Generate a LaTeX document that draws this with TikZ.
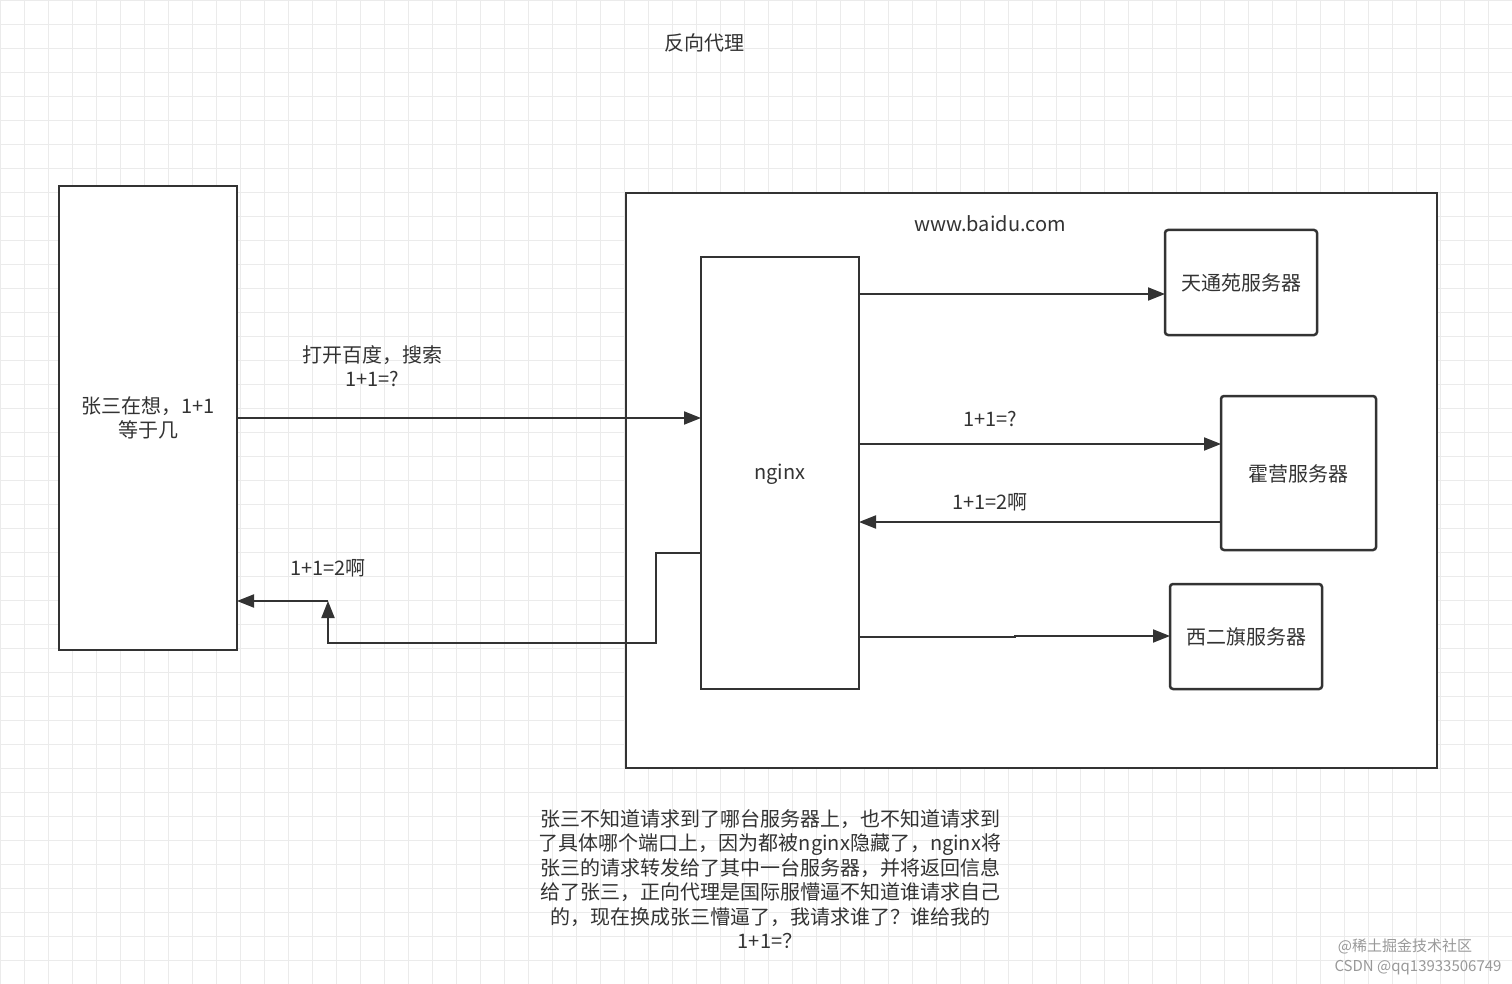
\documentclass[tikz,border=0pt]{standalone}
\usepackage{fontspec}
\setmainfont{Noto Sans CJK SC}
\usetikzlibrary{arrows.meta}
\definecolor{ln}{HTML}{333333}
\begin{document}
\begin{tikzpicture}[x=1pt,y=-1pt,
  box/.style={draw=ln,line width=2.5pt,fill=white},
  rbox/.style={box,rounded corners=3pt},
  arr/.style={draw=ln,line width=2pt,-{Triangle[length=17pt,width=13pt]}},
  txt/.style={font=\fontsize{20}{24.5}\selectfont,text=ln,align=center,inner sep=0pt},
  wm/.style={font=\fontsize{15}{18}\selectfont,text=gray!80,inner sep=0pt}]
\useasboundingbox (0,0) rectangle (1512,984);
\fill[white] (0,0) rectangle (1512,984);
\foreach \i in {0,24,...,1512} \draw[black!8,line width=0.8pt] (\i,0) -- (\i,984);
\foreach \j in {0,24,...,984} \draw[black!8,line width=0.8pt] (0,\j) -- (1512,\j);
\node[txt] (title) at (704,43) {反向代理};
\draw[box] (59,186) rectangle (237,650);
\node[txt] (zs) at (148,418) {张三在想，1+1\\等于几};
\coordinate (L1) at (237,418);
\coordinate (L2) at (237,601);
\draw[box] (626,193) rectangle (1437,768);
\node[txt] (site) at (990,224) {www.baidu.com};
\draw[box] (701,257) rectangle (859,689);
\node[txt] (nginx) at (780,474) {nginx};
\draw[rbox] (1165,230) rectangle (1317,335);
\node[txt] (s1) at (1241,283) {天通苑服务器};
\draw[rbox] (1221,396) rectangle (1376,550);
\node[txt] (s2) at (1298,474) {霍营服务器};
\draw[rbox] (1170,584) rectangle (1322,689);
\node[txt] (s3) at (1246,637) {西二旗服务器};
\coordinate (N1) at (701,418);
\coordinate (N2) at (859,294);
\coordinate (N3) at (859,444);
\coordinate (N4) at (859,522);
\coordinate (N5) at (859,637);
\coordinate (N6) at (701,553);
\coordinate (S1) at (1165,294);
\coordinate (S2a) at (1221,444);
\coordinate (S2b) at (1221,522);
\coordinate (S3) at (1170,636);
\coordinate (U) at (328,601);
\draw[arr] (L1) -- (N1);
\node[txt] (q1) at (372,366) {打开百度，搜索\\1+1=?};
\draw[arr] (N2) -- (S1);
\draw[arr] (N3) -- (S2a);
\node[txt] (q2) at (990,419) {1+1=?};
\draw[arr] (S2b) -- (N4);
\node[txt] (a2) at (990,502) {1+1=2啊};
\draw[arr] (N5) -- (1015,637) -- (1015,636) -- (S3);
\draw[arr] (N6) -- (656,553) -- (656,643) -- (328,643) -- (U);
\draw[arr] (U) -- (L2);
\node[txt] (a1) at (328,568) {1+1=2啊};
\node[txt] (note) at (770,879) {张三不知道请求到了哪台服务器上，也不知道请求到\\了具体哪个端口上，因为都被nginx隐藏了，nginx将\\张三的请求转发给了其中一台服务器，并将返回信息\\给了张三，正向代理是国际服懵逼不知道谁请求自己\\的，现在换成张三懵逼了，我请求谁了？谁给我的\\1+1=？};
\node[wm] (w1) at (1405,946) {@稀土掘金技术社区};
\node[wm] (w2) at (1418,968) {CSDN @qq13933506749};
\end{tikzpicture}
\end{document}
